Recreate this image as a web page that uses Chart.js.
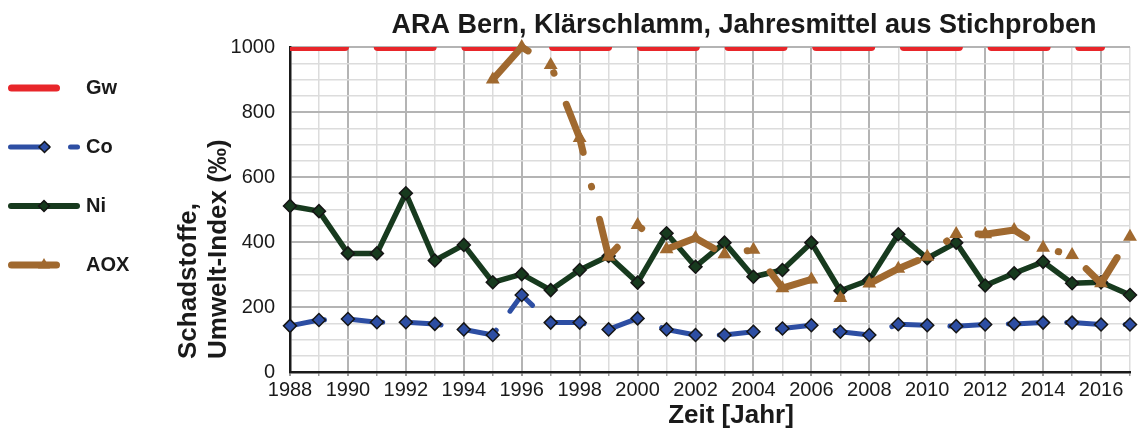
<!DOCTYPE html>
<html>
<head>
<meta charset="utf-8">
<script src="https://cdn.jsdelivr.net/npm/chart.js@4.4.1/dist/chart.umd.min.js"></script>
<style>
html,body{margin:0;padding:0;background:#ffffff;}
#wrap{width:1138px;height:437px;position:relative;}
</style>
</head>
<body>
<div id="wrap"><canvas id="c"></canvas></div>
<script>
// ---- data ----
const years = ['1988','1989','1990','1991','1992','1993','1994','1995','1996','1997',
               '1998','1999','2000','2001','2002','2003','2004','2005','2006','2007',
               '2008','2009','2010','2011','2012','2013','2014','2015','2016','2017'];
const xTickLabels = ['1988','','1990','','1992','','1994','','1996','',
                     '1998','','2000','','2002','','2004','','2006','',
                     '2008','','2010','','2012','','2014','','2016',''];
const yTickLabels = [0, 200, 400, 600, 800, 1000];
const gwValues = [1000,1000,1000,1000,1000,1000,1000,1000,1000,1000,
                  1000,1000,1000,1000,1000,1000,1000,1000,1000,1000,
                  1000,1000,1000,1000,1000,1000,1000,1000,1000,null];
const coValues = [142,160,163,153,153,148,131,114,237,152,
                  152,131,165,131,114,114,124,134,144,124,
                  114,147,144,141,146,148,152,152,146,146];
const niValues = [511,495,365,365,550,343,391,276,301,252,
                  314,357,275,427,324,398,293,314,398,250,
                  283,424,350,398,266,304,339,273,276,237];
const aoxValues = [null,null,null,null,null,null,null,900,1000,945,
                   720,355,452,378,412,362,376,258,285,228,
                   272,318,355,425,424,437,382,360,273,416];
const seriesNames = ['Gw','Co','Ni','AOX'];
const chartTitle = 'ARA Bern, Klärschlamm, Jahresmittel aus Stichproben';
const yAxisTitle = ['\u2002Schadstoffe,', '\u2002Umwelt-Index (‰)'];
const xAxisTitle = 'Zeit [Jahr]';

// ---- styles ----
const FONT = "'Liberation Sans', Arial, Helvetica, sans-serif";
const COL = {gw:'#E8262A', co:'#2D4EA3', ni:'#173A1E', aox:'#A0692F', edge:'#151515', text:'#1a1a1a'};
const MAJOR = '#b4b4b4', MINOR = '#dcdcdc';

const overlay = {
  id: 'overlay',
  afterDraw(chart) {
    const ctx = chart.ctx;
    ctx.save();
    ctx.fillStyle = COL.text;
    ctx.textAlign = 'center';
    ctx.textBaseline = 'alphabetic';
    ctx.font = 'bold 27px ' + FONT;
    ctx.fillText(chartTitle, 744, 33);
    ctx.font = 'bold 26px ' + FONT;
    ctx.fillText(xAxisTitle, 731, 423);

    // legend
    const seg = (x1, x2, y, color, w) => {
      ctx.beginPath(); ctx.moveTo(x1, y); ctx.lineTo(x2, y);
      ctx.strokeStyle = color; ctx.lineWidth = w; ctx.lineCap = 'round'; ctx.stroke();
    };
    const diamond = (x, y, r, fill) => {
      ctx.beginPath(); ctx.moveTo(x - r, y); ctx.lineTo(x, y - r); ctx.lineTo(x + r, y); ctx.lineTo(x, y + r); ctx.closePath();
      ctx.fillStyle = fill; ctx.fill(); ctx.lineWidth = 1.5; ctx.strokeStyle = COL.edge; ctx.stroke();
    };
    const tri = (x, y, r, fill) => {
      ctx.beginPath(); ctx.moveTo(x, y - r); ctx.lineTo(x + r * 0.866, y + r * 0.5); ctx.lineTo(x - r * 0.866, y + r * 0.5); ctx.closePath();
      ctx.fillStyle = fill; ctx.fill();
    };
    const ds = chart.data.datasets;
    const ly = [88, 147, 206, 265];
    seg(11.5, 56.5, ly[0], ds[0].borderColor, 7);
    seg(10.5, 47.5, ly[1], ds[1].borderColor, 5); seg(70.5, 77.5, ly[1], ds[1].borderColor, 5);
    diamond(44.5, ly[1], 5.5, ds[1].pointBackgroundColor);
    seg(11, 77, ly[2], ds[2].borderColor, 6);
    diamond(44, ly[2], 5.5, ds[2].pointBackgroundColor);
    seg(11.5, 56.5, ly[3], ds[3].borderColor, 7);
    tri(44, ly[3], 7, ds[3].pointBackgroundColor);
    ctx.fillStyle = COL.text;
    ctx.textAlign = 'left'; ctx.textBaseline = 'middle';
    ctx.font = 'bold 20px ' + FONT;
    ds.forEach((d, i) => ctx.fillText(d.label, 86, ly[i]));
    ctx.restore();
  }
};

new Chart(document.getElementById('c'), {
  type: 'line',
  data: {
    labels: years,
    datasets: [
      {label: seriesNames[0], data: gwValues, borderColor: COL.gw, backgroundColor: COL.gw,
       borderWidth: 8, borderDash: [55, 32.7], borderCapStyle: 'round', pointRadius: 0, pointHoverRadius: 0,
       order: 1, clip: 0},
      {label: seriesNames[1], data: coValues, borderColor: COL.co, backgroundColor: COL.co,
       borderWidth: 5, borderDash: [35, 23.5], borderCapStyle: 'round', borderJoinStyle: 'round',
       pointStyle: 'rectRot', pointRadius: 6.5, pointHoverRadius: 6.5, pointBackgroundColor: COL.co,
       pointBorderColor: COL.edge, pointBorderWidth: 1.5, order: 3},
      {label: seriesNames[2], data: niValues, borderColor: COL.ni, backgroundColor: COL.ni,
       borderWidth: 5.5, borderJoinStyle: 'round',
       pointStyle: 'rectRot', pointRadius: 6.5, pointHoverRadius: 6.5, pointBackgroundColor: COL.ni,
       pointBorderColor: COL.edge, pointBorderWidth: 1.5, order: 2},
      {label: seriesNames[3], data: aoxValues, borderColor: COL.aox, backgroundColor: COL.aox,
       borderWidth: 7, borderDash: [51, 35, 0.5, 33.5], borderCapStyle: 'round', borderJoinStyle: 'round',
       pointStyle: 'triangle', pointRadius: 8, pointHoverRadius: 8, pointBackgroundColor: COL.aox,
       pointBorderWidth: 0, order: 0, clip: false, spanGaps: false}
    ]
  },
  options: {
    responsive: true,
    maintainAspectRatio: false,
    devicePixelRatio: 1,
    animation: false,
    events: [],
    layout: {padding: {left: 160, right: 8, top: 47, bottom: 0}},
    plugins: {legend: {display: false}, title: {display: false}, tooltip: {enabled: false}},
    elements: {line: {tension: 0}},
    scales: {
      x: {
        type: 'category',
        offset: false,
        grid: {
          color: c => (c.index % 2 === 0 ? MAJOR : MINOR),
          lineWidth: c => (c.index % 2 === 0 ? 2 : 1.5),
          drawTicks: true, tickLength: 4, tickColor: '#9a9a9a'
        },
        border: {display: true, color: COL.text, width: 2.5},
        ticks: {
          autoSkip: false, maxRotation: 0, minRotation: 0, padding: 2,
          color: COL.text, font: {family: FONT, size: 20},
          callback: (v, i) => xTickLabels[i]
        },
        afterFit: s => { s.height = 65; }
      },
      y: {
        min: 0, max: 1000,
        grid: {
          color: c => (c.tick.value % 200 === 0 ? MAJOR : MINOR),
          lineWidth: c => (c.tick.value % 200 === 0 ? 2 : 1.5),
          drawTicks: false
        },
        border: {display: true, color: COL.text, width: 2.5},
        ticks: {
          stepSize: 50, autoSkip: false, padding: 15,
          color: COL.text, font: {family: FONT, size: 20},
          callback: v => (yTickLabels.includes(v) ? String(v) : '')
        },
        title: {
          display: true, text: yAxisTitle, align: 'start', color: COL.text,
          font: {family: FONT, size: 26, weight: 'bold', lineHeight: 1.15},
          padding: {top: 14, bottom: 0}
        },
        afterFit: s => { s.width = 130; }
      }
    }
  },
  plugins: [overlay]
});
</script>
</body>
</html>
